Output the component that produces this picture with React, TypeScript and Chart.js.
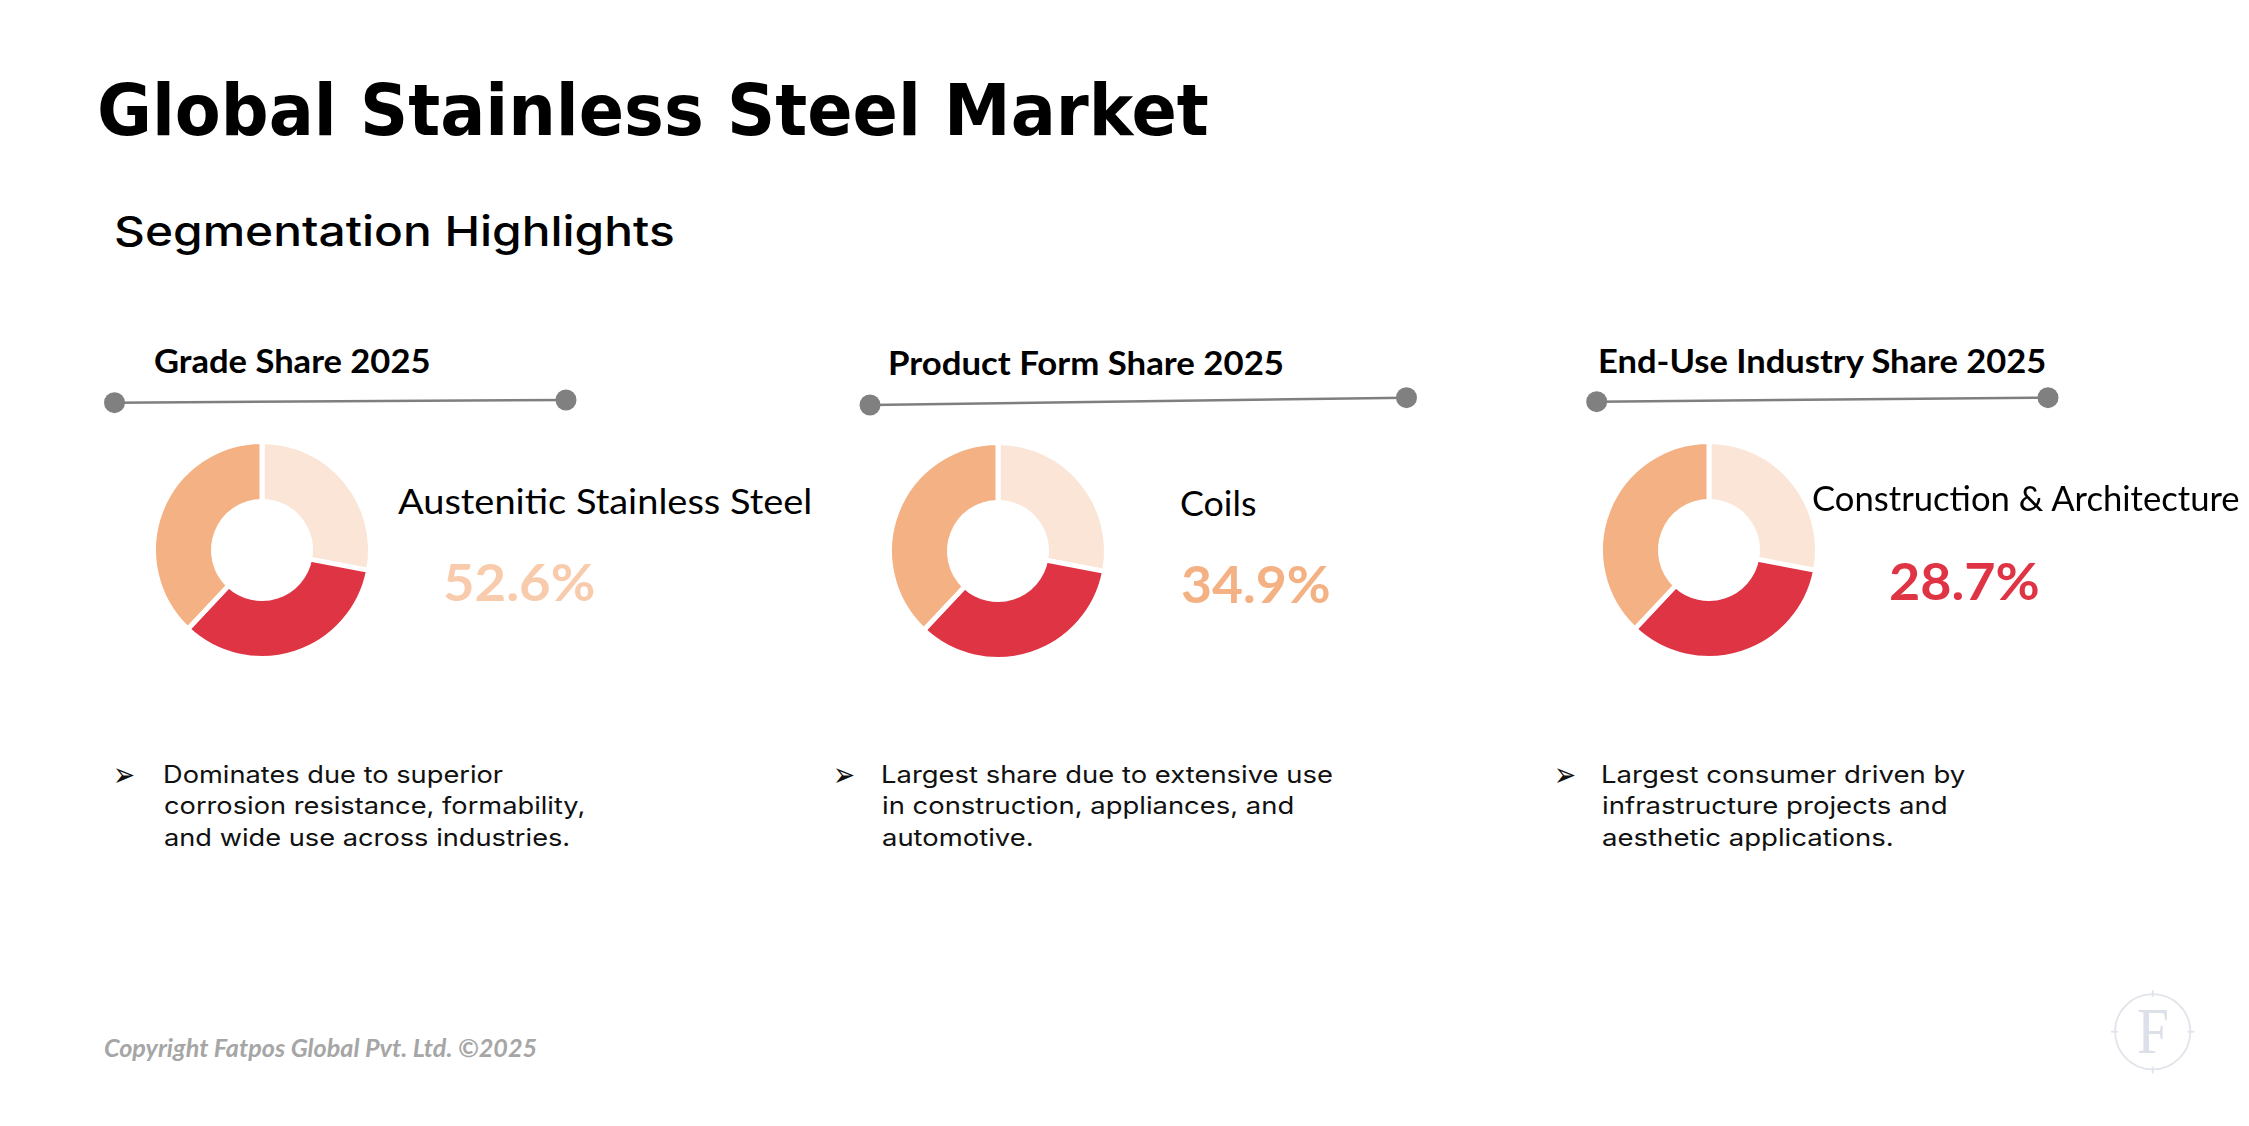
import React, { useEffect, useRef } from 'react';
import { Chart, registerables } from 'chart.js';

Chart.register(...registerables);

// ---- content -------------------------------------------------------------
const pageTitle = 'Global Stainless Steel Market';
const pageSubtitle = 'Segmentation Highlights';
const panelTitles = ['Grade Share 2025', 'Product Form Share 2025', 'End-Use Industry Share 2025'];
const leadingSegments = ['Austenitic Stainless Steel', 'Coils', 'Construction & Architecture'];
const leadingShares = [52.6, 34.9, 28.7];
const ringSlices = ['Segment 1', 'Segment 2', 'Segment 3'];
const gradeRing = [28, 34, 38];
const productFormRing = [28, 34, 38];
const endUseRing = [28, 34, 38];
const ringValues = [gradeRing, productFormRing, endUseRing];
const ringColors = ['#FBE5D6', '#DF3444', '#F4B183'];
const shareColors = ['#F8CBAD', '#F4B183', '#DF3444'];
const notes = [
  ['Dominates due to superior', 'corrosion resistance, formability,', 'and wide use across industries.'],
  ['Largest share due to extensive use', 'in construction, appliances, and', 'automotive.'],
  ['Largest consumer driven by', 'infrastructure projects and', 'aesthetic applications.'],
];
const copyright = 'Copyright Fatpos Global Pvt. Ltd. \u00A92025';

// ---- layout --------------------------------------------------------------
const W = 2249;
const H = 1126;

const panelLayout = [
  {
    title: { left: 155, right: 428.6, baseline: 373.5 },
    rule: { x1: 114.5, y1: 402.7, x2: 566, y2: 400 },
    ring: { cx: 261.7, cy: 549.7 },
    label: { left: 397.8, right: 809.8, baseline: 514.3 },
    share: { left: 445.5, right: 594, baseline: 601.7 },
    note: { arrowLeft: 115, arrowRight: 134, textLeft: 165.6, refLine: 1, refRight: 583.6 },
  },
  {
    title: { left: 890, right: 1282, baseline: 375 },
    rule: { x1: 870, y1: 405, x2: 1406.5, y2: 397.7 },
    ring: { cx: 998.2, cy: 551 },
    label: { left: 1181.5, right: 1256, baseline: 516 },
    share: { left: 1182, right: 1329, baseline: 603.3 },
    note: { arrowLeft: 835, arrowRight: 854, textLeft: 883.5, refLine: 0, refRight: 1332 },
  },
  {
    title: { left: 1600.6, right: 2045.9, baseline: 373.5 },
    rule: { x1: 1596.7, y1: 401.7, x2: 2048, y2: 397.7 },
    ring: { cx: 1708.5, cy: 549.5 },
    label: { left: 1812.6, right: 2239.3, baseline: 511.7 },
    share: { left: 1890.4, right: 2038.4, baseline: 600.7 },
    note: { arrowLeft: 1556, arrowRight: 1575, textLeft: 1603.5, refLine: 0, refRight: 1965 },
  },
];
const noteBaselines = [783, 814.5, 846];

// ---- text helper: places a text run by its ink box --------------------------
let measureCtx: CanvasRenderingContext2D | null = null;
function ctx2d() {
  if (!measureCtx) measureCtx = document.createElement('canvas').getContext('2d');
  return measureCtx!;
}

type TxtProps = {
  text: string;
  family: string;
  weight?: number;
  italic?: boolean;
  color?: string;
  left: number;
  right?: number;
  baseline?: number;
  top?: number;
  cap: number;
  capRef?: string;
  scaleFrom?: { text: string; right: number };
};

function fontString(size: number, family: string, weight: number, italic: boolean) {
  return `${italic ? 'italic ' : ''}${weight} ${size}px ${family}`;
}

function Txt({ text, family, weight = 400, italic = false, color = '#000', left, right, baseline, top, cap, capRef, scaleFrom }: TxtProps) {
  const c = ctx2d();
  c.font = fontString(100, family, weight, italic);
  const ref = c.measureText(capRef ?? 'H');
  const ratio = (ref.actualBoundingBoxAscent + (capRef ? ref.actualBoundingBoxDescent : 0)) / 100;
  const size = cap / ratio;
  c.font = fontString(size, family, weight, italic);
  const m = c.measureText(text);
  let sx = 1;
  if (scaleFrom) {
    const r = c.measureText(scaleFrom.text);
    sx = (scaleFrom.right - left) / (r.actualBoundingBoxLeft + r.actualBoundingBoxRight);
  } else if (right != null) {
    sx = (right - left) / (m.actualBoundingBoxLeft + m.actualBoundingBoxRight);
  }
  const base = baseline != null ? baseline : (top ?? 0) + m.actualBoundingBoxAscent;
  const A = m.fontBoundingBoxAscent;
  const D = m.fontBoundingBoxDescent;
  const lh = Math.ceil(size * 1.4);
  const y = base - ((lh - (A + D)) / 2 + A);
  const x = left + m.actualBoundingBoxLeft * sx;
  return (
    <div
      style={{
        position: 'absolute',
        left: x,
        top: y,
        fontFamily: family,
        fontSize: size,
        fontWeight: weight,
        fontStyle: italic ? 'italic' : 'normal',
        lineHeight: `${lh}px`,
        color,
        whiteSpace: 'pre',
        transform: `scaleX(${sx})`,
        transformOrigin: '0 0',
      }}
    >
      {text}
    </div>
  );
}

// ---- doughnut -------------------------------------------------------------
function Ring({ values, cx, cy }: { values: number[]; cx: number; cy: number }) {
  const ref = useRef<HTMLCanvasElement>(null);
  useEffect(() => {
    const chart = new Chart(ref.current!, {
      type: 'doughnut',
      data: {
        labels: ringSlices,
        datasets: [
          {
            data: values,
            backgroundColor: ringColors,
            borderColor: '#ffffff',
            borderWidth: 5,
            hoverOffset: 0,
          },
        ],
      },
      options: {
        responsive: false,
        animation: false,
        events: [],
        radius: 108.5,
        cutout: '44.7%',
        layout: { padding: 0 },
        plugins: { legend: { display: false }, tooltip: { enabled: false } },
      },
    });
    return () => chart.destroy();
  }, [values]);
  const S = 240;
  return (
    <canvas
      ref={ref}
      width={S}
      height={S}
      style={{ position: 'absolute', left: cx - S / 2, top: cy - S / 2, width: S, height: S }}
    />
  );
}

// ---- page -----------------------------------------------------------------
const CAL = 'Lato';
const POP = 'Inter';

export default function App() {
  return (
    <div style={{ position: 'fixed', left: 0, top: 0, width: W, height: H, background: '#ffffff', overflow: 'hidden' }}>
      <Txt text={pageTitle} family={'"DejaVu Sans"'} weight={700} left={100} right={1208} baseline={135} cap={52} />
      <Txt text={pageSubtitle} family={POP} weight={500} left={116} right={673} baseline={246} cap={30} />

      <svg width={W} height={H} style={{ position: 'absolute', left: 0, top: 0 }}>
        {panelLayout.map((p, i) => (
          <g key={i}>
            <line x1={p.rule.x1} y1={p.rule.y1} x2={p.rule.x2} y2={p.rule.y2} stroke="#7F7F7F" strokeWidth={2.5} />
            <circle cx={p.rule.x1} cy={p.rule.y1} r={10.5} fill="#808080" />
            <circle cx={p.rule.x2} cy={p.rule.y2} r={10.5} fill="#808080" />
          </g>
        ))}
        <g stroke="#E1E4EA" strokeWidth={1.8} fill="none">
          <circle cx={2152.7} cy={1031.7} r={37.6} />
          <line x1={2152.7} y1={990} x2={2152.7} y2={997} />
          <line x1={2152.7} y1={1066.5} x2={2152.7} y2={1073.5} />
          <line x1={2111} y1={1031.7} x2={2118} y2={1031.7} />
          <line x1={2187.5} y1={1031.7} x2={2194.5} y2={1031.7} />
        </g>
      </svg>
      <Txt text="F" family={'"Liberation Serif"'} weight={400} color="#DCE0E8" left={2138} right={2167} baseline={1053.3} cap={42.5} />

      {panelLayout.map((p, i) => (
        <React.Fragment key={i}>
          <Txt text={panelTitles[i]} family={CAL} weight={700} left={p.title.left} right={p.title.right} baseline={p.title.baseline} cap={23.5} />
          <Ring values={ringValues[i]} cx={p.ring.cx} cy={p.ring.cy} />
          <Txt text={leadingSegments[i]} family={CAL} weight={400} left={p.label.left} right={p.label.right} baseline={p.label.baseline} cap={25} />
          <Txt
            text={`${leadingShares[i].toFixed(1)}%`}
            family={CAL}
            weight={700}
            color={shareColors[i]}
            left={p.share.left}
            right={p.share.right}
            baseline={p.share.baseline}
            cap={38}
          />
          <Txt text={'\u27A2'} family={'"DejaVu Sans"'} weight={400} color="#111" left={p.note.arrowLeft} right={p.note.arrowRight} top={768} cap={15} capRef={'\u27A2'} />
          {notes[i].map((line, j) => (
            <Txt
              key={j}
              text={line}
              family={POP}
              weight={400}
              color="#111"
              left={p.note.textLeft}
              baseline={noteBaselines[j]}
              cap={17.5}
              scaleFrom={{ text: notes[i][p.note.refLine], right: p.note.refRight }}
            />
          ))}
        </React.Fragment>
      ))}

      <Txt text={copyright} family={CAL} weight={700} italic color="#A6A6A6" left={104} right={536} baseline={1056.5} cap={17.5} />
    </div>
  );
}
